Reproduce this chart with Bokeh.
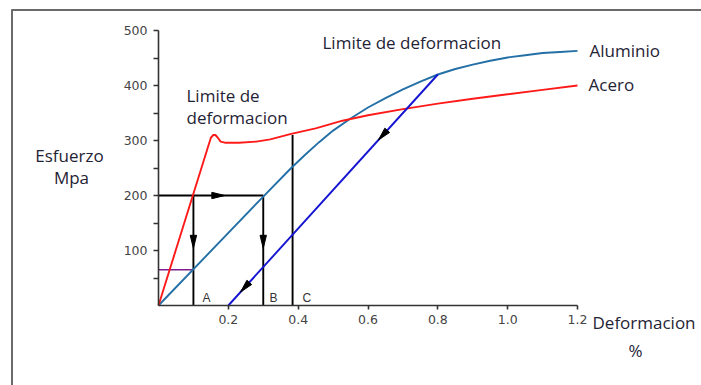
import numpy as np
from bokeh.plotting import figure
from bokeh.models import Range1d, FixedTicker, Label
from bokeh.embed import file_html
from bokeh.resources import INLINE

# ---------------- data ----------------
acero_x = [0, 0.15, 0.157, 0.163, 0.17, 0.178, 0.19, 0.23, 0.28, 0.32, 0.38, 0.45, 0.527, 0.6, 0.7, 0.8, 0.9, 1.0, 1.1, 1.2]
acero_y = [0, 305, 310, 310, 305, 298, 296, 296, 298, 302, 312, 322, 336, 346, 357, 367, 376, 384, 392, 400]

alum_x = [0, 0.3, 0.38, 0.42, 0.46, 0.5, 0.55, 0.6, 0.65, 0.7, 0.75, 0.8, 0.85, 0.9, 0.95, 1.0, 1.05, 1.1, 1.15, 1.2]
alum_y = [0, 198, 250, 274, 297, 318, 340, 360, 377, 393, 407, 420, 430, 438, 445, 451, 455, 459, 461, 463]

descarga_x = [0.8, 0.2]          # unloading line (blue)
descarga_y = [420, 0]

carga_x = [0, 0.3]               # horizontal line at 200 MPa
carga_y = [200, 200]

verticales_x = [0.1, 0.3, 0.384]  # A, B, C
verticales_top = [200, 200, 310]
verticales_lbl = ["A", "B", "C"]

morado_x = [0, 0.1]
morado_y = [65, 65]

y_ticks = [100, 200, 300, 400, 500]
y_minor = [50, 150, 250, 350, 450]
x_ticks = [0.2, 0.4, 0.6, 0.8, 1.0, 1.2]

# arrow tips (x, y) and pointing directions
flechas = [
    (0.19, 200, "right"),
    (0.1, 104, "down"),
    (0.3, 104, "down"),
    (0.63, 301, "line"),
    (0.235, 24.5, "line"),
]

# ---------------- layout (pixel placement of the axes box) ----------------
W, H = 701, 385
X0_PX, X1_PX = 158, 577      # x = 0 and x = 1.2
Y0_PX, Y1_PX = 305, 30       # y = 0 and y = 500
sx = (X1_PX - X0_PX) / 1.2
sy = (Y0_PX - Y1_PX) / 500.0

def dx(px):
    return (px - X0_PX) / sx

def dy(py):
    return (Y0_PX - py) / sy

p = figure(width=W, height=H, output_backend="svg", toolbar_location=None,
           x_range=Range1d(dx(0), dx(W)), y_range=Range1d(dy(H), dy(0)),
           min_border=0, min_border_left=0, min_border_right=0,
           min_border_top=0, min_border_bottom=0,
           background_fill_color="white", border_fill_color="white")
p.outline_line_color = None
p.grid.visible = False

# axes placed at the origin inside the frame
p.xaxis.fixed_location = 0
p.yaxis.fixed_location = 0
p.xaxis.bounds = (0, 1.2)
p.yaxis.bounds = (0, 500)
for ax in (p.xaxis[0], p.yaxis[0]):
    ax.axis_line_color = "#333333"
    ax.axis_line_width = 1.6
    ax.major_tick_line_color = "#333333"
    ax.minor_tick_line_color = "#333333"
    ax.major_tick_line_width = 1.6
    ax.minor_tick_line_width = 1.6
    ax.major_tick_in = 0
    ax.minor_tick_in = 0
    ax.major_label_text_font = "DejaVu Sans"
    ax.major_label_text_font_size = "12.5px"
    ax.major_label_text_color = "#444444"

p.yaxis.ticker = FixedTicker(ticks=y_ticks, minor_ticks=y_minor)
p.yaxis.major_tick_out = 5
p.yaxis.minor_tick_out = 5
p.yaxis.major_label_standoff = 6
p.xaxis.ticker = FixedTicker(ticks=x_ticks, minor_ticks=[])
p.xaxis.major_tick_out = 4
p.xaxis.minor_tick_out = 0
p.xaxis.major_label_standoff = 5
p.xaxis.major_label_overrides = {0.2: "0.2", 0.4: "0.4", 0.6: "0.6", 0.8: "0.8", 1.0: "1.0", 1.2: "1.2"}

# picture frame (grey border top and left)
p.line([dx(11), dx(W)], [dy(9.5), dy(9.5)], line_color="#6a6a6a", line_width=2)
p.line([dx(11.5), dx(11.5)], [dy(9), dy(H)], line_color="#6a6a6a", line_width=2)

# lines
LW = 1.9
p.line(carga_x, carga_y, line_color="black", line_width=LW)
for xv, top in zip(verticales_x, verticales_top):
    p.line([xv, xv], [0, top], line_color="black", line_width=LW)
p.line(morado_x, morado_y, line_color="#7b1f8c", line_width=1.6)
p.line(alum_x, alum_y, line_color="#2470a6", line_width=LW)
p.line(acero_x, acero_y, line_color="#ff1a1a", line_width=LW)
p.line(descarga_x, descarga_y, line_color="#1414d2", line_width=LW)

# arrowheads
ldx = (descarga_x[1] - descarga_x[0]) * sx
ldy = (descarga_y[1] - descarga_y[0]) * sy
ln = np.hypot(ldx, ldy)
dirs = {"right": (1.0, 0.0), "down": (0.0, -1.0), "line": (ldx / ln, ldy / ln)}
hx, hy = [], []
L, w = 13.0, 3.2
for tx, ty, d in flechas:
    ux, uy = dirs[d]
    bx, by = -L * ux, -L * uy
    px_, py_ = -uy * w, ux * w
    hx.append([tx, tx + (bx + px_) / sx, tx + (bx - px_) / sx])
    hy.append([ty, ty + (by + py_) / sy, ty + (by - py_) / sy])
p.patches(hx, hy, fill_color="black", line_color="black", line_width=1)

# text labels
TC = "#1f2335"
FONT = "Open Sans"
FS = "17px"

def lbl(x, y, t, align="left", font=FONT, size=FS, color=TC):
    p.add_layout(Label(x=x, y=y, text=t, text_align=align, text_baseline="middle",
                       text_font=font, text_font_size=size, text_color=color))

lbl(dx(322), dy(42), "Limite de deformacion")
lbl(dx(186), dy(95), "Limite de")
lbl(dx(186), dy(117), "deformacion")
lbl(dx(589), dy(50), "Aluminio")
lbl(dx(588), dy(84), "Acero")
lbl(dx(69), dy(155), "Esfuerzo", align="center")
lbl(dx(71), dy(177), "Mpa", align="center")
lbl(dx(592), dy(322), "Deformacion")
lbl(dx(635), dy(350), "%", align="center")

abc_px = [202, 269, 302]
for xp, t in zip(abc_px, verticales_lbl):
    lbl(dx(xp), dy(297), t, font="Liberation Sans", size="12px", color="#333333")

open("out.html", "w").write(file_html(p, INLINE))
